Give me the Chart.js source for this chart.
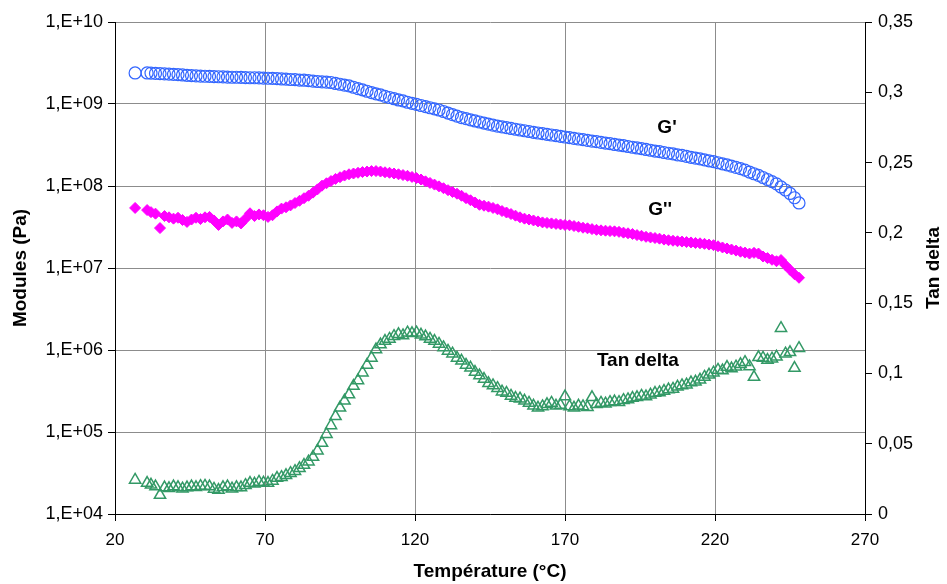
<!DOCTYPE html>
<html>
<head>
<meta charset="utf-8">
<script src="https://cdn.jsdelivr.net/npm/chart.js@4.4.1/dist/chart.umd.min.js"></script>
<style>
  body { margin: 0; background: #fff; }
  #wrap { width: 947px; height: 584px; }
</style>
</head>
<body>
<div id="wrap"><canvas id="dma" width="947" height="584"></canvas></div>
<script>
// Temperature (°C)
const temps = [
  26.7, 30.7, 32, 33.5, 35, 36.5, 38, 39.5, 41, 42.5,
  44, 45.5, 47, 48.5, 50, 51.5, 53, 54.5, 56, 57.5,
  59, 60.5, 62, 63.5, 65, 66.5, 68, 69.5, 71, 72.5,
  74, 75.5, 77, 78.5, 80, 81.5, 83, 84.5, 86, 87.5,
  89, 90.5, 92, 93.5, 95, 96.5, 98, 99.5, 101, 102.5,
  104, 105.5, 107, 108.5, 110, 111.5, 113, 114.5, 116, 117.5,
  119, 120.5, 122, 123.5, 125, 126.5, 128, 129.5, 131, 132.5,
  134, 135.5, 137, 138.5, 140, 141.5, 143, 144.5, 146, 147.5,
  149, 150.5, 152, 153.5, 155, 156.5, 158, 159.5, 161, 162.5,
  164, 165.5, 167, 168.5, 170, 171.5, 173, 174.5, 176, 177.5,
  179, 180.5, 182, 183.5, 185, 186.5, 188, 189.5, 191, 192.5,
  194, 195.5, 197, 198.5, 200, 201.5, 203, 204.5, 206, 207.5,
  209, 210.5, 212, 213.5, 215, 216.5, 218, 219.5, 221, 222.5,
  224, 225.5, 227, 228.5, 230, 231.5, 233, 234.5, 236, 237.5,
  239, 240.5, 242, 243.5, 245, 246.5, 248
];

// G' (Pa)
const gPrime = [
  2.39e9, 2.39e9, 2.38e9, 2.36e9, 2.35e9, 2.33e9, 2.32e9, 2.30e9, 2.28e9, 2.26e9,
  2.24e9, 2.22e9, 2.20e9, 2.19e9, 2.18e9, 2.17e9, 2.16e9, 2.15e9, 2.14e9, 2.13e9,
  2.12e9, 2.12e9, 2.11e9, 2.10e9, 2.09e9, 2.09e9, 2.08e9, 2.07e9, 2.06e9, 2.05e9,
  2.04e9, 2.02e9, 2.01e9, 1.99e9, 1.98e9, 1.96e9, 1.95e9, 1.93e9, 1.90e9, 1.88e9,
  1.86e9, 1.85e9, 1.83e9, 1.78e9, 1.74e9, 1.70e9, 1.66e9, 1.60e9, 1.54e9, 1.49e9,
  1.43e9, 1.38e9, 1.33e9, 1.29e9, 1.24e9, 1.20e9, 1.16e9, 1.12e9, 1.09e9, 1.05e9,
  1.02e9, 9.89e8, 9.59e8, 9.29e8, 9.00e8, 8.73e8, 8.45e8, 8.10e8, 7.76e8, 7.43e8,
  7.12e8, 6.84e8, 6.63e8, 6.41e8, 6.21e8, 6.03e8, 5.86e8, 5.69e8, 5.53e8, 5.37e8,
  5.25e8, 5.14e8, 5.03e8, 4.92e8, 4.82e8, 4.72e8, 4.62e8, 4.52e8, 4.43e8, 4.35e8,
  4.27e8, 4.19e8, 4.11e8, 4.04e8, 3.96e8, 3.89e8, 3.81e8, 3.74e8, 3.67e8, 3.60e8,
  3.53e8, 3.47e8, 3.40e8, 3.34e8, 3.28e8, 3.21e8, 3.16e8, 3.10e8, 3.03e8, 2.97e8,
  2.91e8, 2.85e8, 2.79e8, 2.73e8, 2.67e8, 2.62e8, 2.56e8, 2.51e8, 2.46e8, 2.40e8,
  2.36e8, 2.30e8, 2.24e8, 2.19e8, 2.14e8, 2.08e8, 2.03e8, 1.98e8, 1.92e8, 1.86e8,
  1.81e8, 1.75e8, 1.69e8, 1.63e8, 1.56e8, 1.48e8, 1.41e8, 1.35e8, 1.27e8, 1.20e8,
  1.13e8, 1.06e8, 9.73e7, 8.94e7, 8.11e7, 7.19e7, 6.21e7
];

// G'' (Pa)
const gSecond = [
  5.40e7, 5.09e7, 4.80e7, 4.60e7, 3.07e7, 4.30e7, 4.15e7, 4.00e7, 4.10e7, 3.85e7,
  3.65e7, 3.90e7, 4.10e7, 3.95e7, 4.15e7, 4.20e7, 3.80e7, 3.35e7, 3.70e7, 3.90e7,
  3.55e7, 3.70e7, 3.50e7, 4.00e7, 4.65e7, 4.30e7, 4.50e7, 4.40e7, 4.20e7, 4.40e7,
  4.90e7, 5.30e7, 5.50e7, 5.80e7, 6.20e7, 6.60e7, 7.10e7, 7.60e7, 8.30e7, 9.10e7,
  1.01e8, 1.08e8, 1.15e8, 1.22e8, 1.28e8, 1.34e8, 1.39e8, 1.42e8, 1.45e8, 1.48e8,
  1.50e8, 1.52e8, 1.52e8, 1.50e8, 1.47e8, 1.45e8, 1.42e8, 1.39e8, 1.36e8, 1.33e8,
  1.29e8, 1.25e8, 1.20e8, 1.14e8, 1.09e8, 1.04e8, 9.90e7, 9.40e7, 8.90e7, 8.45e7,
  8.05e7, 7.60e7, 7.10e7, 6.70e7, 6.30e7, 5.90e7, 5.75e7, 5.60e7, 5.40e7, 5.20e7,
  4.95e7, 4.75e7, 4.55e7, 4.35e7, 4.15e7, 4.00e7, 3.90e7, 3.80e7, 3.70e7, 3.60e7,
  3.55e7, 3.50e7, 3.45e7, 3.40e7, 3.35e7, 3.32e7, 3.25e7, 3.18e7, 3.10e7, 3.05e7,
  2.98e7, 2.92e7, 2.88e7, 2.85e7, 2.82e7, 2.80e7, 2.76e7, 2.70e7, 2.65e7, 2.60e7,
  2.52e7, 2.47e7, 2.40e7, 2.36e7, 2.32e7, 2.28e7, 2.22e7, 2.18e7, 2.15e7, 2.12e7,
  2.10e7, 2.07e7, 2.05e7, 2.02e7, 2.00e7, 1.97e7, 1.93e7, 1.90e7, 1.84e7, 1.78e7,
  1.73e7, 1.68e7, 1.63e7, 1.58e7, 1.54e7, 1.50e7, 1.53e7, 1.50e7, 1.38e7, 1.32e7,
  1.26e7, 1.21e7, 1.25e7, 1.08e7, 9.50e6, 8.40e6, 7.60e6
];

// Tan delta
const tanDelta = [
  0.0242, 0.0220, 0.0208, 0.0195, 0.0135, 0.0188, 0.0183, 0.0195, 0.0190, 0.0180,
  0.0188, 0.0195, 0.0190, 0.0198, 0.0200, 0.0195, 0.0178, 0.0170, 0.0190, 0.0195,
  0.0180, 0.0190, 0.0188, 0.0205, 0.0220, 0.0215, 0.0228, 0.0222, 0.0220, 0.0235,
  0.0256, 0.0262, 0.0275, 0.0290, 0.0305, 0.0325, 0.0348, 0.0372, 0.0405, 0.0450,
  0.0505, 0.0568, 0.0630, 0.0695, 0.0755, 0.0805, 0.0850, 0.0910, 0.0950, 0.1005,
  0.1060, 0.1110, 0.1170, 0.1205, 0.1230, 0.1245, 0.1265, 0.1278, 0.1270, 0.1290,
  0.1285, 0.1290, 0.1275, 0.1262, 0.1245, 0.1230, 0.1210, 0.1185, 0.1160, 0.1140,
  0.1110, 0.1090, 0.1060, 0.1040, 0.1010, 0.0985, 0.0960, 0.0930, 0.0915, 0.0895,
  0.0870, 0.0860, 0.0840, 0.0825, 0.0820, 0.0805, 0.0790, 0.0770, 0.0755, 0.0765,
  0.0780, 0.0790, 0.0770, 0.0775, 0.0835, 0.0765, 0.0755, 0.0770, 0.0765, 0.0760,
  0.0830, 0.0780, 0.0790, 0.0785, 0.0795, 0.0800, 0.0795, 0.0810, 0.0815, 0.0825,
  0.0830, 0.0840, 0.0835, 0.0848, 0.0860, 0.0865, 0.0875, 0.0885, 0.0890, 0.0905,
  0.0915, 0.0920, 0.0935, 0.0940, 0.0955, 0.0975, 0.0990, 0.1005, 0.1025, 0.1020,
  0.1045, 0.1035, 0.1048, 0.1065, 0.1080, 0.1050, 0.0974, 0.1115, 0.1110, 0.1095,
  0.1105, 0.1118, 0.1322, 0.1140, 0.1150, 0.1038, 0.1180
];

// Axis ticks
const modulusTicks = [1e4, 1e5, 1e6, 1e7, 1e8, 1e9, 1e10];
const seriesNames = ["G'", "G''", "Tan delta"];

const FONT = "'Liberation Sans', Arial, sans-serif";

const toPoints = (ys) => temps.map((t, i) => ({ x: t, y: ys[i] }));

// comma decimal like the French Excel output
const commaNum = (v) => String(Math.round(v * 100) / 100).replace('.', ',');

// axis titles and the in-plot series labels
const textPlugin = {
  id: 'texts',
  afterDraw(chart) {
    const { ctx, chartArea: a, scales } = chart;
    ctx.save();
    ctx.fillStyle = '#000';
    ctx.textAlign = 'center';
    ctx.textBaseline = 'middle';
    ctx.font = 'bold 19px ' + FONT;
    ctx.fillText('Température (°C)', (a.left + a.right) / 2, 572);

    ctx.save();
    ctx.translate(21, (a.top + a.bottom) / 2);
    ctx.rotate(-Math.PI / 2);
    ctx.fillText('Modules (Pa)', 0, 0);
    ctx.restore();

    ctx.save();
    ctx.translate(934, (a.top + a.bottom) / 2);
    ctx.rotate(-Math.PI / 2);
    ctx.fillText('Tan delta', 0, 0);
    ctx.restore();

    ctx.font = 'bold 19px ' + FONT;
    const x = scales.x, y = scales.y, y2 = scales.y2;
    ctx.fillText(seriesNames[0], x.getPixelForValue(204), y.getPixelForValue(5.2e8));
    ctx.fillText(seriesNames[1], x.getPixelForValue(201.7), y.getPixelForValue(5.1e7));
    ctx.fillText(seriesNames[2], x.getPixelForValue(194.3), y2.getPixelForValue(0.1088));
    ctx.restore();
  }
};

new Chart(document.getElementById('dma'), {
  type: 'scatter',
  plugins: [textPlugin],
  data: {
    datasets: [
      {
        label: seriesNames[0],
        data: toPoints(gPrime),
        yAxisID: 'y',
        pointStyle: 'circle',
        pointRadius: 6,
        borderColor: '#3366ff',
        backgroundColor: 'rgba(0,0,0,0)',
        borderWidth: 1.2
      },
      {
        label: seriesNames[1],
        data: toPoints(gSecond),
        yAxisID: 'y',
        pointStyle: 'rectRot',
        pointRadius: 5.5,
        borderColor: '#ff00ff',
        backgroundColor: '#ff00ff',
        borderWidth: 1
      },
      {
        label: seriesNames[2],
        data: toPoints(tanDelta),
        yAxisID: 'y2',
        pointStyle: 'triangle',
        pointRadius: 6.5,
        borderColor: '#339966',
        backgroundColor: 'rgba(0,0,0,0)',
        borderWidth: 1.5
      }
    ]
  },
  options: {
    responsive: false,
    animation: false,
    layout: { padding: { top: 22, left: 0, right: 0, bottom: 0 } },
    plugins: { legend: { display: false }, tooltip: { enabled: false } },
    scales: {
      x: {
        type: 'linear',
        min: 20,
        max: 270,
        afterFit: (s) => { s.height = 70; },
        ticks: { stepSize: 50, color: '#000', padding: 9, font: { family: FONT, size: 17 } },
        grid: { color: '#8c8c8c', tickColor: '#000', tickLength: 7 },
        border: { color: '#000', width: 1 }
      },
      y: {
        type: 'logarithmic',
        position: 'left',
        min: 1e4,
        max: 1e10,
        afterFit: (s) => { s.width = 115; },
        afterBuildTicks: (s) => { s.ticks = modulusTicks.map((v) => ({ value: v, major: true })); },
        ticks: {
          color: '#000',
          padding: 5,
          font: { family: FONT, size: 18 },
          callback: (v) => '1,E+' + String(Math.round(Math.log10(v))).padStart(2, '0')
        },
        grid: { color: '#8c8c8c', tickColor: '#000', tickLength: 7 },
        border: { color: '#000', width: 1 }
      },
      y2: {
        type: 'linear',
        position: 'right',
        min: 0,
        max: 0.35,
        afterFit: (s) => { s.width = 82; },
        ticks: {
          stepSize: 0.05,
          color: '#000',
          padding: 6,
          font: { family: FONT, size: 18 },
          callback: (v) => commaNum(v)
        },
        grid: { drawOnChartArea: false, tickColor: '#000', tickLength: 7 },
        border: { color: '#000', width: 1 }
      }
    }
  }
});
</script>
</body>
</html>
